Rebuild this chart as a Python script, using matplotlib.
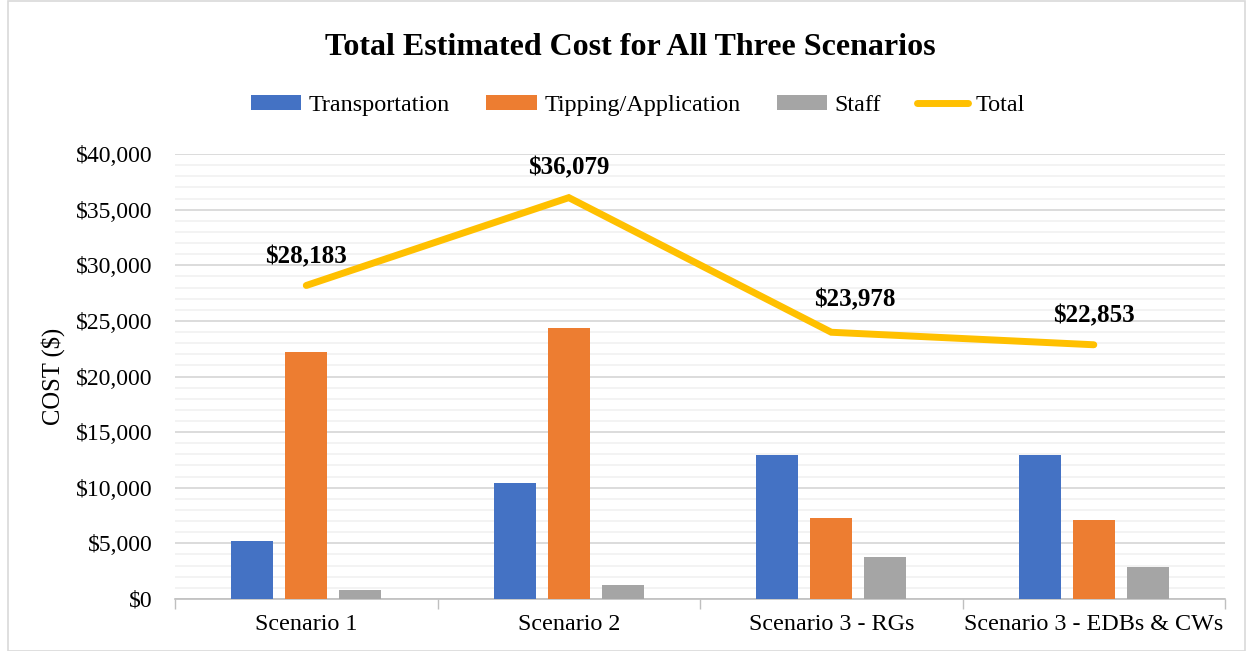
import numpy as np
import matplotlib.pyplot as plt
from matplotlib.patches import Rectangle
from matplotlib.ticker import FuncFormatter, MultipleLocator

plt.rcParams['font.family'] = ['Liberation Serif', 'DejaVu Serif']

categories = ["Scenario 1", "Scenario 2", "Scenario 3 - RGs", "Scenario 3 - EDBs & CWs"]
transportation = [5210, 10400, 12900, 12900]
tipping = [22190, 24380, 7280, 7100]
staff = [783, 1299, 3798, 2853]
total = [28183, 36079, 23978, 22853]

# label offsets in pixels (baseline placement as in the original)
label_offsets = [(0, 22), (0, 23), (24, 26), (0, 22)]

fig = plt.figure(figsize=(12.53, 6.51), dpi=100)
ax = fig.add_axes([0.1397, 0.0799, 0.838, 0.6835])

x = np.arange(len(categories))
w = 0.16
d = 0.206
b1 = ax.bar(x - d, transportation, w, color="#4472C4", label="Transportation", zorder=3)
b2 = ax.bar(x, tipping, w, color="#ED7D31", label="Tipping/Application", zorder=3)
b3 = ax.bar(x + d, staff, w, color="#A5A5A5", label="Staff", zorder=3)
ln, = ax.plot(x, total, color="#FFC000", lw=5, label="Total", zorder=4,
              solid_capstyle="round", solid_joinstyle="miter")

for xi, t, off in zip(x, total, label_offsets):
    ax.annotate("${:,}".format(t), (xi, t), xytext=off, textcoords="offset pixels",
                ha="center", va="baseline", fontsize=18, fontweight="bold", zorder=5)

ax.set_xlim(-0.5, len(categories) - 0.5)
ax.set_ylim(0, 40000)
ax.yaxis.set_major_locator(MultipleLocator(5000))
ax.yaxis.set_minor_locator(MultipleLocator(1000))
ax.yaxis.set_major_formatter(FuncFormatter(lambda v, p: "${:,.0f}".format(v)))
ax.grid(axis="y", which="major", color="#d9d9d9", lw=1.3, zorder=0)
ax.grid(axis="y", which="minor", color="#f2f2f2", lw=1.3, zorder=0)
ax.set_axisbelow(True)

ax.set_xticks(x)
ax.set_xticklabels(categories)
ax.set_xticks(np.arange(len(categories) + 1) - 0.5, minor=True)
ax.tick_params(axis="x", which="major", length=0, labelsize=17.4, pad=11)
ax.tick_params(axis="x", which="minor", length=7, color="#bfbfbf", width=1)
ax.tick_params(axis="y", which="both", length=0, labelsize=17, pad=16)

for s in ["top", "right", "left"]:
    ax.spines[s].set_visible(False)
ax.spines["bottom"].set_color("#bfbfbf")
ax.spines["bottom"].set_linewidth(1.2)

ax.set_ylabel("COST ($)", fontsize=17.7, labelpad=8)

fig.text(0.503, 0.927, "Total Estimated Cost for All Three Scenarios", ha="center", va="center",
         fontsize=23, fontweight="bold")

fig.legend([b1, b2, b3, ln], ["Transportation", "Tipping/Application", "Staff", "Total"],
           loc="center", bbox_to_anchor=(0.509, 0.838), ncol=4, frameon=False, fontsize=17.4,
           handlelength=2.1, handleheight=0.6, handletextpad=0.3, columnspacing=1.5)

fig.patches.append(Rectangle((0.006, 0.0), 0.988, 0.998, transform=fig.transFigure,
                             fill=False, edgecolor="#d9d9d9", lw=1.2))

fig.savefig("out.png", dpi=100)
